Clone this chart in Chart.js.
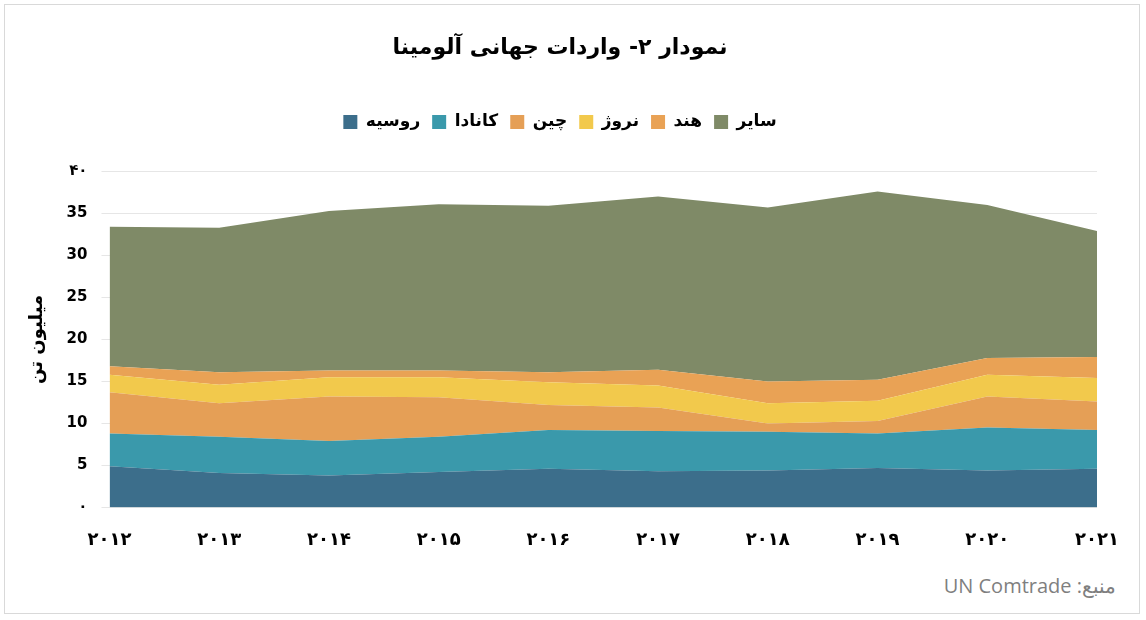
<!DOCTYPE html>
<html><head><meta charset="utf-8">
<script src="https://cdn.jsdelivr.net/npm/chart.js@4"></script>
<style>
body{margin:0;background:#fff;font-family:"DejaVu Sans";}
#wrap{position:absolute;left:4px;top:4px;width:1136px;height:610px;border:1px solid #d9d9d9;box-sizing:border-box;}
#src{position:absolute;right:30px;top:572px;font:20px "Open Sans","Noto Sans";color:#7f7f7f;direction:rtl;}
</style></head><body>
<div id="wrap"><canvas id="c" width="1134" height="560"></canvas></div>
<div id="src">منبع: UN Comtrade</div>
<script>
var years = ['۲۰۱۲','۲۰۱۳','۲۰۱۴','۲۰۱۵','۲۰۱۶','۲۰۱۷','۲۰۱۸','۲۰۱۹','۲۰۲۰','۲۰۲۱'];
var russia = [4.9, 4.1, 3.8, 4.2, 4.6, 4.3, 4.4, 4.7, 4.4, 4.6];
var canada = [3.9, 4.3, 4.1, 4.2, 4.6, 4.8, 4.6, 4.1, 5.1, 4.6];
var china = [4.9, 4.0, 5.3, 4.7, 3.0, 2.8, 1.0, 1.5, 3.7, 3.4];
var norway = [2.1, 2.2, 2.3, 2.4, 2.7, 2.6, 2.4, 2.4, 2.6, 2.8];
var india = [1.0, 1.5, 0.8, 0.8, 1.2, 1.9, 2.6, 2.5, 2.0, 2.5];
var other = [16.6, 17.2, 19.0, 19.8, 19.8, 20.6, 20.7, 22.4, 18.2, 15.0];
var yTickLabels = {0:'۰',5:'5',10:'10',15:'15',20:'20',25:'25',30:'30',35:'35',40:'۴۰'};

function ds(label, data, color, fill){
	return {label: label, data: data, backgroundColor: color, borderColor: color, borderWidth: 0,
		pointRadius: 0, tension: 0, fill: fill};
}

// extra room under the legend
var legendGap = {
	id: 'legendGap',
	beforeInit: function(chart){
		var fit = chart.legend.fit;
		chart.legend.fit = function(){ fit.bind(chart.legend)(); this.height += 31; };
	}
};

new Chart(document.getElementById('c').getContext('2d'), {
	type: 'line',
	data: {
		labels: years,
		datasets: [
			ds('روسیه', russia, '#3c6e8b', 'origin'),
			ds('کانادا', canada, '#3a99ab', '-1'),
			ds('چین', china, '#e59f56', '-1'),
			ds('نروژ', norway, '#f2c94c', '-1'),
			ds('هند', india, '#e9a255', '-1'),
			ds('سایر', other, '#7f8a67', '-1')
		]
	},
	plugins: [legendGap],
	options: {
		responsive: false,
		animation: false,
		layout: {padding: {left: 18, right: 42, top: 10, bottom: 0}},
		plugins: {
			title: {display: true, text: 'نمودار ۲- واردات جهانی آلومینا', color: '#000',
				font: {family: 'DejaVu Sans', size: 22, weight: 'bold'}, padding: {top: 20, bottom: 40}},
			legend: {labels: {boxWidth: 14, boxHeight: 14, color: '#000',
				font: {family: 'DejaVu Sans', size: 17, weight: 'bold'}, padding: 12}},
			tooltip: {enabled: false}
		},
		scales: {
			x: {offset: false, grid: {display: false}, border: {display: false},
				ticks: {color: '#000', font: {family: 'DejaVu Sans', size: 18, weight: 'bold'}, padding: 14}},
			y: {stacked: true, min: 0, max: 40,
				grid: {color: '#e6e6e6'}, border: {display: false},
				title: {display: true, text: 'میلیون تن', color: '#000', font: {family: 'DejaVu Sans', size: 18, weight: 'bold'}},
				ticks: {stepSize: 5, color: '#000', font: {family: 'DejaVu Sans', size: 15, weight: 'bold'}, padding: 14,
					callback: function(v){ return yTickLabels[v]; }}}
		}
	}
});
</script>
</body></html>
